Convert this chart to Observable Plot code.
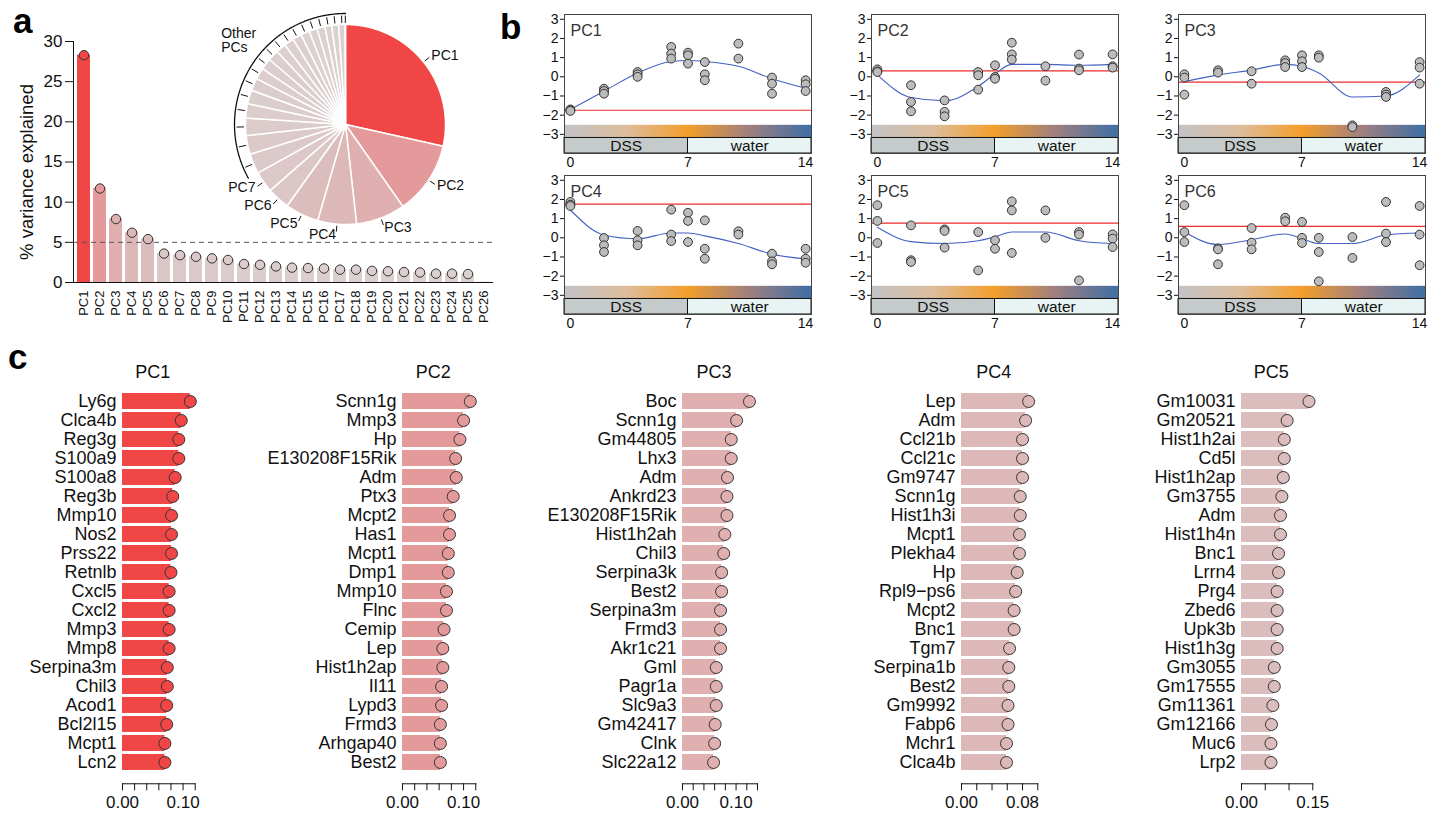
<!DOCTYPE html>
<html>
<head>
<meta charset="utf-8">
<script src="https://cdn.jsdelivr.net/npm/d3@7"></script>
<script src="https://cdn.jsdelivr.net/npm/@observablehq/plot@0.6"></script>
<style>
  html, body { margin: 0; padding: 0; background: #fff; }
  #root { position: relative; width: 1446px; height: 814px; overflow: hidden; font-family: "Liberation Sans", Arial, Helvetica, sans-serif; color: #111; }
  .panel { position: absolute; }
  .panel svg { overflow: visible; }
  .letter { position: absolute; font-weight: bold; font-size: 35px; line-height: 35px; color: #000; }
</style>
</head>
<body>
<svg width="0" height="0" style="position:absolute;left:0;top:0">
  <defs>
    <linearGradient id="dssGrad" x1="0" x2="1" y1="0" y2="0">
      <stop offset="0" stop-color="#c3c3c6"/>
      <stop offset="0.25" stop-color="#dcbd9c"/>
      <stop offset="0.5" stop-color="#f59e2b"/>
      <stop offset="0.75" stop-color="#9e7f80"/>
      <stop offset="1" stop-color="#3f6ea5"/>
    </linearGradient>
  </defs>
</svg>
<div id="root">
  <div class="letter" style="left:13px;top:3px">a</div>
  <div class="letter" style="left:500px;top:9px">b</div>
  <div class="letter" style="left:8px;top:339px">c</div>
</div>
<script>
// ---------------- DATA ----------------
const pcNames = ["PC1","PC2","PC3","PC4","PC5","PC6","PC7","PC8","PC9","PC10","PC11","PC12","PC13",
  "PC14","PC15","PC16","PC17","PC18","PC19","PC20","PC21","PC22","PC23","PC24","PC25","PC26"];
const varExplained = [28.3, 11.7, 7.9, 6.2, 5.4, 3.6, 3.4, 3.2, 3.0, 2.8, 2.3, 2.2, 2.0,
  1.85, 1.8, 1.75, 1.6, 1.6, 1.45, 1.4, 1.3, 1.25, 1.1, 1.1, 1.05, 0.05];
const yTicksA = [0, 5, 10, 15, 20, 25, 30];
const thresholdA = 5;

const days = [0, 2, 4, 6, 7, 8, 10, 12, 14];
const phases = [{label: "DSS", from: 0, to: 7}, {label: "water", from: 7, to: 14}];
const bNames = ["PC1", "PC2", "PC3", "PC4", "PC5", "PC6"];
const scoresPC1 = [[-1.70,-1.75,-1.78],[-0.62,-0.74,-0.88],[0.25,0.13,0.0],[1.56,1.21,0.95],[1.26,1.12,0.69],[0.77,0.13,-0.18],[1.73,0.95],[-0.04,-0.36,-0.88],[-0.18,-0.39,-0.74]];
const scoresPC2 = [[0.39,0.28,0.25],[-0.44,-1.31,-1.80],[-1.23,-1.83,-2.06],[0.25,0.08,-0.67],[0.60,-0.01,-0.10],[1.78,1.17,0.90],[0.55,-0.20],[1.16,0.43,0.34],[1.17,0.55,0.48]];
const scoresPC3 = [[0.13,-0.04,-0.93],[0.34,0.22],[0.29,-0.36],[0.86,0.72,0.51],[1.12,0.81,0.51],[1.12,1.00],[-2.53,-2.62],[-0.79,-0.93,-1.05],[0.77,0.48,-0.36]];
const scoresPC4 = [[1.87,1.73,1.66],[-0.01,-0.39,-0.74],[0.36,-0.13,-0.39],[1.47,0.17,-0.17],[1.31,0.88,-0.22],[0.91,-0.57,-1.09],[0.34,0.17],[-0.83,-1.23,-1.38],[-0.57,-1.09,-1.30]];
const scoresPC5 = [[1.70,0.88,-0.27],[0.65,-1.17,-1.26],[0.44,0.36,-0.51],[0.30,-1.70],[-0.13,-0.57],[1.90,1.43,-0.79],[1.43,0.00],[0.30,0.17,-2.22],[0.18,-0.04,-0.48]];
const scoresPC6 = [[1.70,0.30,-0.22],[-0.55,-0.60,-1.38],[0.51,-0.25,-0.60],[1.05,0.86],[0.83,0.00,-0.27],[0.00,-0.74,-2.27],[0.04,-1.05],[1.87,0.22,-0.22],[1.66,0.17,-1.43]];
const trendPC1 = [-1.70,-0.75,0.20,0.80,0.85,0.80,0.55,-0.10,-0.60];
const trendPC2 = [0.10,-1.08,-1.25,-0.50,0.15,0.65,0.65,0.60,0.65];
const trendPC3 = [-0.25,0.10,0.35,0.65,0.55,0.20,-1.05,-1.00,0.10];
const trendPC4 = [1.45,0.15,-0.05,0.25,0.25,0.10,-0.30,-0.85,-1.10];
const trendPC5 = [0.55,-0.20,-0.30,-0.15,0.05,0.30,0.30,-0.15,-0.30];
const trendPC6 = [0.30,-0.35,-0.10,0.20,-0.05,-0.30,-0.30,0.15,0.25];
const bTicksY = [-3, -2, -1, 0, 1, 2, 3];
const bTicksX = [0, 7, 14];

const pc1Genes = ["Ly6g","Clca4b","Reg3g","S100a9","S100a8","Reg3b","Mmp10","Nos2","Prss22","Retnlb","Cxcl5","Cxcl2","Mmp3","Mmp8","Serpina3m","Chil3","Acod1","Bcl2l15","Mcpt1","Lcn2"];
const pc1Load = [0.112,0.097,0.093,0.093,0.087,0.083,0.081,0.081,0.081,0.080,0.077,0.077,0.077,0.077,0.074,0.074,0.073,0.073,0.070,0.070];
const pc2Genes = ["Scnn1g","Mmp3","Hp","E130208F15Rik","Adm","Ptx3","Mcpt2","Has1","Mcpt1","Dmp1","Mmp10","Flnc","Cemip","Lep","Hist1h2ap","Il11","Lypd3","Frmd3","Arhgap40","Best2"];
const pc2Load = [0.111,0.100,0.094,0.087,0.088,0.083,0.077,0.077,0.075,0.075,0.072,0.072,0.068,0.066,0.066,0.064,0.064,0.062,0.062,0.062];
const pc3Genes = ["Boc","Scnn1g","Gm44805","Lhx3","Adm","Ankrd23","E130208F15Rik","Hist1h2ah","Chil3","Serpina3k","Best2","Serpina3m","Frmd3","Akr1c21","Gml","Pagr1a","Slc9a3","Gm42417","Clnk","Slc22a12"];
const pc3Load = [0.125,0.101,0.091,0.091,0.084,0.083,0.083,0.079,0.077,0.073,0.073,0.071,0.071,0.071,0.063,0.063,0.063,0.061,0.060,0.058];
const pc4Genes = ["Lep","Adm","Ccl21b","Ccl21c","Gm9747","Scnn1g","Hist1h3i","Mcpt1","Plekha4","Hp","Rpl9\u2212ps6","Mcpt2","Bnc1","Tgm7","Serpina1b","Best2","Gm9992","Fabp6","Mchr1","Clca4b"];
const pc4Load = [0.088,0.084,0.080,0.080,0.080,0.077,0.077,0.076,0.076,0.073,0.071,0.069,0.069,0.063,0.062,0.062,0.061,0.061,0.059,0.059];
const pc5Genes = ["Gm10031","Gm20521","Hist1h2ai","Cd5l","Hist1h2ap","Gm3755","Adm","Hist1h4n","Bnc1","Lrrn4","Prg4","Zbed6","Upk3b","Hist1h3g","Gm3055","Gm17555","Gm11361","Gm12166","Muc6","Lrp2"];
const pc5Load = [0.142,0.096,0.090,0.090,0.088,0.085,0.082,0.082,0.078,0.078,0.075,0.075,0.075,0.075,0.069,0.069,0.066,0.063,0.062,0.062];
const cMax = [0.12, 0.12, 0.14, 0.10, 0.15];
const cStep = [0.02, 0.02, 0.02, 0.02, 0.05];
const cLabeled = [[0, 0.10], [0, 0.10], [0, 0.10], [0, 0.08], [0, 0.15]];

// ---------------- STYLE / LAYOUT ----------------
const FONT = '"Liberation Sans", Arial, Helvetica, sans-serif';
const baseStyle = {fontFamily: FONT, color: "#111", background: "transparent", overflow: "visible"};
const pcColor = d3.scaleLinear()
  .domain([0, 1, 3.5, 5.4, 6.2, 7.9, 11.7, 28.3])
  .range(["#ddd7d7", "#dcd1d1", "#dcc8c8", "#dcbdbd", "#ddb8b8", "#e0afaf", "#e49a9a", "#f04646"]);

const root = document.getElementById("root");
function place(svg, left, top) {
  const d = document.createElement("div");
  d.className = "panel";
  d.style.left = left + "px";
  d.style.top = top + "px";
  d.style.width = svg.getAttribute("width") + "px";
  d.appendChild(svg);
  root.appendChild(d);
}

// ---------------- PANEL A: bars ----------------
const varRows = pcNames.map((pc, i) => ({pc, v: varExplained[i]}));
const aPlot = Plot.plot({
  width: 520, height: 330, marginLeft: 73, marginRight: 27, marginTop: 41, marginBottom: 48,
  style: {...baseStyle, fontSize: "17px"},
  x: {domain: pcNames, padding: 0.2, label: null},
  y: {domain: [0, 30], label: null},
  marks: [
    Plot.barY(varRows, {x: "pc", y: "v", fill: d => pcColor(d.v)}),
    Plot.ruleY([thresholdA], {stroke: "#555", strokeDasharray: "5,4", strokeWidth: 1}),
    Plot.ruleY([0], {stroke: "#111"}),
    Plot.frame({anchor: "left", stroke: "#111"}),
    Plot.dot(varRows.filter(d => d.v > 0.5), {x: "pc", y: "v", r: 4.7, fill: d => pcColor(d.v), stroke: "#333", strokeWidth: 1}),
    Plot.axisY({ticks: yTicksA, tickSize: 8, tickPadding: 3, fontSize: 17, label: null}),
    Plot.axisX({tickRotate: -90, tickSize: 0, tickPadding: 8, fontSize: 13, label: null}),
    Plot.text(["% variance explained"], {text: d => d, frameAnchor: "left", textAnchor: "middle", lineAnchor: "middle", rotate: -90, dx: -46, dy: 10, fontSize: 18.5})
  ]
});
place(aPlot, 0, 0);

// ---------------- PANEL A: pie ----------------
const polar = (r, a) => [r * Math.sin(a), -r * Math.cos(a)];
const arcs = d3.pie().sort(null).value(v => v)(varExplained);
const slices = arcs.map((a, i) => ({pc: pcNames[i], v: a.data, a0: a.startAngle, a1: a.endAngle, mid: (a.startAngle + a.endAngle) / 2}));
function arcPoints(r, a0, a1) {
  const n = Math.max(2, Math.ceil((a1 - a0) / 0.01));
  return d3.range(n + 1).map(k => polar(r, a0 + (a1 - a0) * k / n));
}
const sliceFeatures = slices.map(s => ({
  type: "Feature", properties: s,
  geometry: {type: "Polygon", coordinates: [[[0, 0], ...arcPoints(1, s.a0, s.a1), [0, 0]]]}
}));
const labeled = slices.slice(0, 7);
const others = slices.slice(7);
const tickLine = (s, r0, r1) => ({type: "Feature", properties: s, geometry: {type: "LineString", coordinates: [polar(r0, s.mid), polar(r1, s.mid)]}});
const otherArc = {type: "Feature", properties: {}, geometry: {type: "LineString", coordinates: arcPoints(1.11, others[0].a0, 2 * Math.PI)}};
const pieDomain = {type: "Polygon", coordinates: [[[-1.5, -1.5], [1.5, -1.5], [1.5, 1.5], [-1.5, 1.5], [-1.5, -1.5]]]};
const otherMidAngle = 304 * Math.PI / 180;
const piePlot = Plot.plot({
  width: 300, height: 300, margin: 0,
  style: {...baseStyle, fontSize: "14px"},
  projection: {type: "identity", domain: pieDomain},
  marks: [
    Plot.geo(sliceFeatures, {fill: d => pcColor(d.properties.v), stroke: "white", strokeWidth: 1.5}),
    Plot.geo(labeled.map(s => tickLine(s, 1.02, 1.07)), {stroke: "#111", strokeWidth: 1}),
    Plot.geo(others.map(s => tickLine(s, 1.02, 1.085)), {stroke: "#111", strokeWidth: 1}),
    Plot.geo([otherArc], {stroke: "#111", strokeWidth: 1.3, fill: "none"}),
    Plot.text(labeled.filter(s => s.mid < Math.PI), {x: s => polar(1.1, s.mid)[0], y: s => polar(1.1, s.mid)[1], text: "pc", textAnchor: "start", fontSize: 14}),
    Plot.text(labeled.filter(s => s.mid >= Math.PI), {x: s => polar(1.1, s.mid)[0], y: s => polar(1.1, s.mid)[1], text: "pc", textAnchor: "end", fontSize: 14}),
    Plot.text(["Other\nPCs"], {x: () => polar(1.5, otherMidAngle)[0], y: () => polar(1.5, otherMidAngle)[1], text: d => d, textAnchor: "start", lineHeight: 1, fontSize: 14})
  ]
});
place(piePlot, 345 - 150, 124 - 150);

// ---------------- PANEL B: time courses ----------------
const bScores = [scoresPC1, scoresPC2, scoresPC3, scoresPC4, scoresPC5, scoresPC6];
const bTrends = [trendPC1, trendPC2, trendPC3, trendPC4, trendPC5, trendPC6];
const bColLeft = [563.5, 870.5, 1178];
const bRowTop = [14.3, 175];
function timeCourse(name, scores, trend) {
  const ML = 34, MR = 14, MT = 5, MB = 26, FW = 247, FH = 139;
  const xd = [-0.35, 14.35];
  const pts = scores.flatMap((vals, i) => vals.map(v => ({day: days[i], v})));
  const tr = days.map((d, i) => ({day: d, v: trend[i]}));
  const base = d3.mean(scores[0]);
  const px1 = d => d.from <= days[0] ? xd[0] : d.from;
  const px2 = d => d.to >= days[days.length - 1] ? xd[1] : d.to;
  const svg = Plot.plot({
    width: ML + FW + MR, height: MT + FH + MB,
    marginLeft: ML, marginRight: MR, marginTop: MT, marginBottom: MB,
    style: {...baseStyle, fontSize: "14px"},
    x: {domain: xd, label: null},
    y: {domain: [-4.0, 3.25], label: null},
    marks: [
      Plot.rect([0], {x1: xd[0], x2: xd[1], y1: -3.19, y2: -2.53, fill: "url(#dssGrad)"}),
      Plot.rect(phases, {x1: px1, x2: px2, y1: -4.0, y2: -3.19,
        fill: d => d.label === "DSS" ? "#c5cbca" : "#e7f4f3", stroke: "#111", strokeWidth: 1}),
      Plot.text(phases, {x: d => (px1(d) + px2(d)) / 2, y: -3.6, text: "label", fontSize: 15.5, fill: "#111"}),
      Plot.ruleY([base], {stroke: "#ec2a2a", strokeWidth: 1.2}),
      Plot.line(tr, {x: "day", y: "v", stroke: "#4561c2", strokeWidth: 1.1, curve: "monotone-x"}),
      Plot.dot(pts, {x: "day", y: "v", r: 4.4, fill: "#bcbcbc", stroke: "#333", strokeWidth: 1}),
      Plot.frame({stroke: "#444"}),
      Plot.text([name], {text: d => d, frameAnchor: "top-left", lineAnchor: "top", textAnchor: "start", dx: 6, dy: 10, fontSize: 16, fill: "#333"}),
      Plot.axisY({ticks: bTicksY, tickSize: 4, tickPadding: 2, fontSize: 14, label: null}),
      Plot.axisX({ticks: bTicksX, tickSize: 0, tickPadding: 4, fontSize: 14, label: null})
    ]
  });
  return {svg, ML, MT};
}
bNames.forEach((name, i) => {
  const {svg, ML, MT} = timeCourse(name, bScores[i], bTrends[i]);
  place(svg, bColLeft[i % 3] - ML, bRowTop[Math.floor(i / 3)] - MT);
});

// ---------------- PANEL C: loadings ----------------
const cGenes = [pc1Genes, pc2Genes, pc3Genes, pc4Genes, pc5Genes];
const cLoads = [pc1Load, pc2Load, pc3Load, pc4Load, pc5Load];
const cBarLeft = [122.3, 402.3, 681.7, 961, 1241];
const cBarWidth = [72.7, 73.3, 75, 76.3, 71.3];
cGenes.forEach((genes, i) => {
  const ML = 125, MR = 20, MT = 40.3, MB = 34;
  const rows = genes.map((g, j) => ({gene: g, v: cLoads[i][j]}));
  const col = pcColor(varExplained[i]);
  const nT = Math.round(cMax[i] / cStep[i]);
  const ticks = d3.range(nT + 1).map(k => +(k * cStep[i]).toFixed(4));
  const lab = cLabeled[i];
  const svg = Plot.plot({
    width: ML + cBarWidth[i] + MR, height: MT + 403 + MB,
    marginLeft: ML, marginRight: MR, marginTop: MT, marginBottom: MB,
    style: {...baseStyle, fontSize: "18px"},
    x: {domain: [0, cMax[i]], label: null},
    y: {domain: genes, padding: 0.15, label: null},
    marks: [
      Plot.barX(rows, {x: "v", y: "gene", fill: col}),
      Plot.dot(rows, {x: "v", y: "gene", r: 6, fill: col, stroke: "#333", strokeWidth: 1}),
      Plot.frame({anchor: "bottom", stroke: "#111"}),
      Plot.axisX({ticks, tickSize: 7, tickPadding: 5, fontSize: 17, label: null,
        tickFormat: d => lab.some(t => Math.abs(t - d) < 1e-6) ? d3.format(".2f")(d) : ""}),
      Plot.axisY({tickSize: 0, tickPadding: 6, fontSize: 18, label: null}),
      Plot.text([pcNames[i]], {text: d => d, frameAnchor: "top", dx: -6, dy: -16, fontSize: 18})
    ]
  });
  place(svg, cBarLeft[i] - ML, 340);
});
</script>
</body>
</html>
